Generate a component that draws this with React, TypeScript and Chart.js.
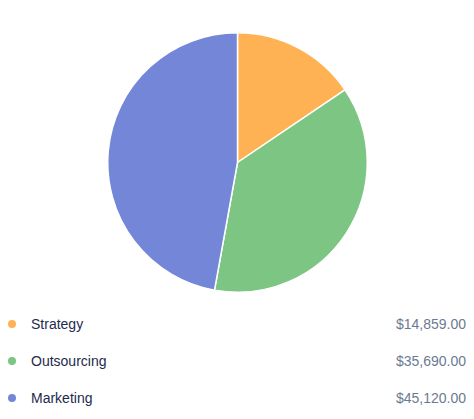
import React, { useEffect, useRef } from "react";
import { Chart, registerables } from "chart.js";

Chart.register(...registerables);

const categories = ["Strategy", "Outsourcing", "Marketing"];
const values = [14859, 35690, 45120];
const valueLabels = ["$14,859.00", "$35,690.00", "$45,120.00"];
const colors = ["#FFB254", "#7CC582", "#7386D8"];

export default function App() {
  const ref = useRef<HTMLCanvasElement | null>(null);

  useEffect(() => {
    if (!ref.current) return;
    const chart = new Chart(ref.current, {
      type: "pie",
      data: {
        labels: categories,
        datasets: [
          {
            data: values,
            backgroundColor: colors,
            borderColor: "#ffffff",
            borderWidth: 1.5,
          },
        ],
      },
      options: {
        responsive: true,
        maintainAspectRatio: false,
        animation: false,
        plugins: { legend: { display: false }, tooltip: { enabled: false } },
      },
    });
    return () => chart.destroy();
  }, []);

  return (
    <div
      style={{
        fontFamily: "'Liberation Sans', Arial, sans-serif",
        height: 403,
        overflow: "hidden",
      }}
    >
      <div
        style={{
          position: "relative",
          width: 459,
          height: 261,
          marginTop: 24,
        }}
      >
        <canvas ref={ref} />
      </div>
      <div style={{ marginTop: 12, width: 458 }}>
        {categories.map((c, i) => (
          <div
            key={c}
            style={{
              display: "flex",
              alignItems: "center",
              height: 37,
              fontSize: 14,
            }}
          >
            <span
              style={{
                width: 8,
                height: 8,
                flexShrink: 0,
                borderRadius: "50%",
                background: colors[i],
                display: "inline-block",
                marginRight: 15,
              }}
            />
            <span style={{ color: "#1e2b4d", flex: 1 }}>{c}</span>
            <span style={{ color: "#6c7a91", whiteSpace: "nowrap" }}>
              {valueLabels[i]}
            </span>
          </div>
        ))}
      </div>
    </div>
  );
}
